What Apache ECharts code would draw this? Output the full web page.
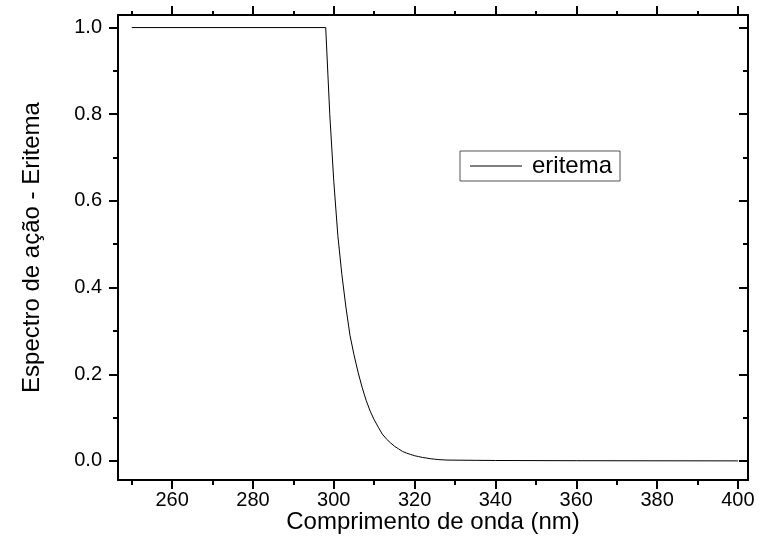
<!DOCTYPE html>
<html>
<head>
<meta charset="utf-8">
<script src="https://cdn.jsdelivr.net/npm/echarts@6/dist/echarts.min.js"></script>
<style>
  html, body { margin: 0; padding: 0; background: #fff; }
  #main { width: 769px; height: 560px; }
</style>
</head>
<body>
<div id="main"></div>
<script>
// wavelength (nm) and erythema action spectrum
var wavelengths = [250, 298, 299, 300, 301, 302, 303, 304, 305, 306, 307, 308, 309, 310,
  311, 312, 313, 314, 315, 316, 317, 318, 319, 320, 321, 322, 323, 324, 325, 326, 327, 328,
  330, 335, 340, 360, 380, 400];
var eritema = [1, 1, 0.80, 0.645, 0.52, 0.43, 0.355, 0.29, 0.245, 0.205, 0.17, 0.14, 0.115, 0.095,
  0.078, 0.062, 0.051, 0.042, 0.034, 0.028, 0.022, 0.018, 0.015, 0.012, 0.010, 0.008, 0.0065, 0.005, 0.004, 0.003, 0.0025, 0.002,
  0.0018, 0.0014, 0.001, 0.0005, 0.0003, 0.0001];

var xMajor = [260, 280, 300, 320, 340, 360, 380, 400];
var xMinor = [250, 270, 290, 310, 330, 350, 370, 390];
var yMajor = [0, 0.2, 0.4, 0.6, 0.8, 1.0];
var yMinor = [0.1, 0.3, 0.5, 0.7, 0.9];

var font = "Liberation Sans, Arial, sans-serif";
var xMin = 246.6, xMax = 402.5;
var yMin = -0.044, yMax = 1.029;

var chartDom = document.getElementById("main");
var myChart = echarts.init(chartDom);

var lineStyle = { color: "#000", width: 2 };

function xAxisDef(pos, values, len, labels, line) {
  return {
    type: "value",
    position: pos,
    min: xMin,
    max: xMax,
    axisLine: { show: line, onZero: false, lineStyle: lineStyle },
    axisTick: { show: true, inside: false, length: len, customValues: values, lineStyle: lineStyle },
    axisLabel: labels ? {
      show: true, customValues: values, margin: 10, color: "#000",
      fontSize: 20, fontFamily: font
    } : { show: false },
    splitLine: { show: false }
  };
}

function yAxisDef(pos, values, len, inside, labels, line) {
  return {
    type: "value",
    position: pos,
    min: yMin,
    max: yMax,
    axisLine: { show: line, onZero: false, lineStyle: lineStyle },
    axisTick: { show: true, inside: inside, length: len, customValues: values, lineStyle: lineStyle },
    axisLabel: labels ? {
      show: true, customValues: values, margin: 16, color: "#000",
      fontSize: 20, fontFamily: font,
      formatter: function (v) { return v.toFixed(1); }
    } : { show: false },
    splitLine: { show: false }
  };
}

var xAxes = [
  xAxisDef("bottom", xMajor, 9, true, true),
  xAxisDef("bottom", xMinor, 5, false, false),
  xAxisDef("top", xMajor, 9, false, true),
  xAxisDef("top", xMinor, 4, false, false)
];
xAxes[0].name = "Comprimento de onda (nm)";
xAxes[0].nameLocation = "middle";
xAxes[0].nameGap = 30;
xAxes[0].nameMoveOverlap = false;
xAxes[0].nameTextStyle = { color: "#000", fontSize: 24, fontFamily: font };

var yAxes = [
  yAxisDef("left", yMajor, 9, false, true, true),
  yAxisDef("left", yMinor, 5, false, false, false),
  yAxisDef("right", yMajor, 9, true, false, true),
  yAxisDef("right", yMinor, 5, true, false, false)
];
yAxes[0].name = "Espectro de ação - Eritema";
yAxes[0].nameLocation = "middle";
yAxes[0].nameGap = 74;
yAxes[0].nameTextStyle = { color: "#000", fontSize: 24, fontFamily: font };

var seriesData = wavelengths.map(function (w, i) { return [w, eritema[i]]; });

var option = {
  backgroundColor: "#fff",
  animation: false,
  grid: { left: 118, right: 21, top: 15, bottom: 80, containLabel: false },
  legend: {
    data: [{ name: "eritema", icon: "rect" }],
    left: 460,
    top: 151,
    orient: "vertical",
    padding: [3, 8, 3, 10],
    borderColor: "#555",
    borderWidth: 1,
    itemWidth: 52,
    itemHeight: 1,
    itemStyle: { color: "#000" },
    textStyle: { color: "#000", fontSize: 24, fontFamily: font, padding: [0, 0, 0, 5] }
  },
  xAxis: xAxes,
  yAxis: yAxes,
  series: [
    {
      name: "eritema",
      type: "line",
      xAxisIndex: 0,
      yAxisIndex: 0,
      data: seriesData,
      symbol: "none",
      lineStyle: { color: "#000", width: 1 },
      itemStyle: { color: "#000" }
    }
  ]
};

option && myChart.setOption(option);
</script>
</body>
</html>
